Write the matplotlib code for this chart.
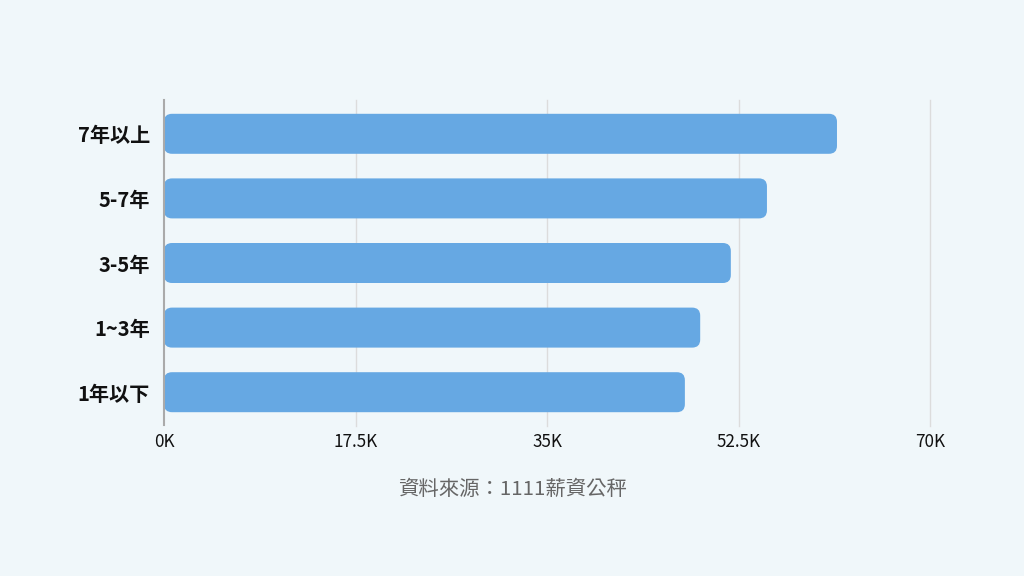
import matplotlib
matplotlib.use("Agg")
import matplotlib.pyplot as plt
from matplotlib.patches import FancyBboxPatch

categories = ["7年以上", "5-7年", "3-5年", "1~3年", "1年以下"]
values = [61500, 55100, 51800, 49000, 47600]
xticks = [0, 17500, 35000, 52500, 70000]
xtick_labels = ["0K", "17.5K", "35K", "52.5K", "70K"]
source = "資料來源：1111薪資公秤"

plt.rcParams['font.family'] = ['Noto Sans CJK TC', 'DejaVu Sans']

bg = "#F0F7FA"
bar_color = "#66A8E3"

W, H = 1024, 576
fig = plt.figure(figsize=(W/100, H/100), dpi=100, facecolor=bg)
left, right, top, bottom = 164, 930, 101.5, 424.5
ax = fig.add_axes([left/W, 1-bottom/H, (right-left)/W, (bottom-top)/H])
ax.set_facecolor(bg)

n = len(categories)
ypos = list(range(n))
ax.set_xlim(0, 70000)
ax.set_ylim(n-0.5, -0.5)

ax_w_px = right-left
ax_h_px = bottom-top
ux = 70000/ax_w_px
uy = n/ax_h_px
bar_h = 40*uy
r_px = 8
for y, v in zip(ypos, values):
    p = FancyBboxPatch((0, y-bar_h/2), v, bar_h,
                       boxstyle=f"round,pad=0,rounding_size={r_px*ux}",
                       mutation_aspect=uy/ux,
                       facecolor=bar_color, edgecolor="none", zorder=3)
    ax.add_patch(p)

ax.set_yticks(ypos)
ax.set_yticklabels(categories, fontsize=14.5, fontweight='bold', color="#111111")
ax.set_xticks(xticks)
ax.set_xticklabels(xtick_labels, fontsize=12.3, color="#111111")
ax.tick_params(axis='both', length=0)
ax.tick_params(axis='y', pad=10)
ax.tick_params(axis='x', pad=6)
for xv in xticks[1:]:
    ax.axvline(xv, ymin=-0.005, ymax=1.005, color="#DCDCDC", linewidth=1, zorder=0, clip_on=False)
for s in ["top", "right", "bottom"]:
    ax.spines[s].set_visible(False)
ax.axvline(0, ymin=-0.002, ymax=1.005, color="#AAAAAA", linewidth=1.5, zorder=4, clip_on=False)
ax.spines["left"].set_visible(False)

fig.text(0.5, 1-489/H, source, ha='center', va='center', fontsize=14.7, color="#666666")

fig.savefig("out.png", dpi=100, facecolor=bg)
